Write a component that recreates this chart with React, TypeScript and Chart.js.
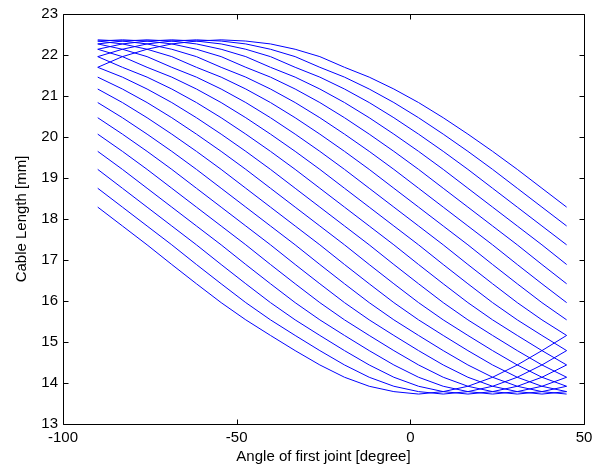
import React, { useEffect, useRef } from "react";
import { Chart, registerables } from "chart.js";

Chart.register(...registerables);

// Angle of first joint [degree] (20 samples from -90 to 45)
const angles = [
  -90, -82.89, -75.79, -68.68, -61.58, -54.47, -47.37, -40.26, -33.16, -26.05,
  -18.95, -11.84, -4.74, 2.37, 9.47, 16.58, 23.68, 30.79, 37.89, 45,
];

// Cable length [mm] for each second-joint setting
const c0 = [21.70, 21.96, 22.14, 22.27, 22.34, 22.37, 22.34, 22.27, 22.14, 21.96, 21.70, 21.46, 21.17, 20.84, 20.47, 20.07, 19.65, 19.21, 18.75, 18.29];
const c1 = [21.96, 22.14, 22.27, 22.34, 22.37, 22.34, 22.27, 22.14, 21.96, 21.70, 21.46, 21.17, 20.84, 20.47, 20.07, 19.65, 19.21, 18.75, 18.29, 17.83];
const c2 = [22.14, 22.27, 22.34, 22.37, 22.34, 22.27, 22.14, 21.96, 21.70, 21.46, 21.17, 20.84, 20.47, 20.07, 19.65, 19.21, 18.75, 18.29, 17.83, 17.37];
const c3 = [22.27, 22.34, 22.37, 22.34, 22.27, 22.14, 21.96, 21.70, 21.46, 21.17, 20.84, 20.47, 20.07, 19.65, 19.21, 18.75, 18.29, 17.83, 17.37, 16.89];
const c4 = [22.34, 22.37, 22.34, 22.27, 22.14, 21.96, 21.70, 21.46, 21.17, 20.84, 20.47, 20.07, 19.65, 19.21, 18.75, 18.29, 17.83, 17.37, 16.89, 16.42];
const c5 = [22.37, 22.34, 22.27, 22.14, 21.96, 21.70, 21.46, 21.17, 20.84, 20.47, 20.07, 19.65, 19.21, 18.75, 18.29, 17.83, 17.37, 16.89, 16.42, 15.96];
const c6 = [22.34, 22.27, 22.14, 21.96, 21.70, 21.46, 21.17, 20.84, 20.47, 20.07, 19.65, 19.21, 18.75, 18.29, 17.83, 17.37, 16.89, 16.42, 15.96, 15.54];
const c7 = [22.27, 22.14, 21.96, 21.70, 21.46, 21.17, 20.84, 20.47, 20.07, 19.65, 19.21, 18.75, 18.29, 17.83, 17.37, 16.89, 16.42, 15.96, 15.54, 15.16];
const c8 = [22.14, 21.96, 21.70, 21.46, 21.17, 20.84, 20.47, 20.07, 19.65, 19.21, 18.75, 18.29, 17.83, 17.37, 16.89, 16.42, 15.96, 15.54, 15.16, 14.79];
const c9 = [21.96, 21.70, 21.46, 21.17, 20.84, 20.47, 20.07, 19.65, 19.21, 18.75, 18.29, 17.83, 17.37, 16.89, 16.42, 15.96, 15.54, 15.16, 14.79, 14.44];
const c10 = [21.70, 21.46, 21.17, 20.84, 20.47, 20.07, 19.65, 19.21, 18.75, 18.29, 17.83, 17.37, 16.89, 16.42, 15.96, 15.54, 15.16, 14.79, 14.44, 14.14];
const c11 = [21.46, 21.17, 20.84, 20.47, 20.07, 19.65, 19.21, 18.75, 18.29, 17.83, 17.37, 16.89, 16.42, 15.96, 15.54, 15.16, 14.79, 14.44, 14.14, 13.92];
const c12 = [21.17, 20.84, 20.47, 20.07, 19.65, 19.21, 18.75, 18.29, 17.83, 17.37, 16.89, 16.42, 15.96, 15.54, 15.16, 14.79, 14.44, 14.14, 13.92, 13.79];
const c13 = [20.84, 20.47, 20.07, 19.65, 19.21, 18.75, 18.29, 17.83, 17.37, 16.89, 16.42, 15.96, 15.54, 15.16, 14.79, 14.44, 14.14, 13.92, 13.79, 13.73];
const c14 = [20.47, 20.07, 19.65, 19.21, 18.75, 18.29, 17.83, 17.37, 16.89, 16.42, 15.96, 15.54, 15.16, 14.79, 14.44, 14.14, 13.92, 13.79, 13.73, 13.79];
const c15 = [20.07, 19.65, 19.21, 18.75, 18.29, 17.83, 17.37, 16.89, 16.42, 15.96, 15.54, 15.16, 14.79, 14.44, 14.14, 13.92, 13.79, 13.73, 13.79, 13.92];
const c16 = [19.65, 19.21, 18.75, 18.29, 17.83, 17.37, 16.89, 16.42, 15.96, 15.54, 15.16, 14.79, 14.44, 14.14, 13.92, 13.79, 13.73, 13.79, 13.92, 14.14];
const c17 = [19.21, 18.75, 18.29, 17.83, 17.37, 16.89, 16.42, 15.96, 15.54, 15.16, 14.79, 14.44, 14.14, 13.92, 13.79, 13.73, 13.79, 13.92, 14.14, 14.44];
const c18 = [18.75, 18.29, 17.83, 17.37, 16.89, 16.42, 15.96, 15.54, 15.16, 14.79, 14.44, 14.14, 13.92, 13.79, 13.73, 13.79, 13.92, 14.14, 14.44, 14.79];
const c19 = [18.29, 17.83, 17.37, 16.89, 16.42, 15.96, 15.54, 15.16, 14.79, 14.44, 14.14, 13.92, 13.79, 13.73, 13.79, 13.92, 14.14, 14.44, 14.79, 15.16];

const curves = [c0, c1, c2, c3, c4, c5, c6, c7, c8, c9, c10, c11, c12, c13, c14, c15, c16, c17, c18, c19];

const xTicks = [-100, -50, 0, 50];
const yTicks = [13, 14, 15, 16, 17, 18, 19, 20, 21, 22, 23];

const FONT = "'Liberation Sans', Arial, Helvetica, sans-serif";

const framePlugin = {
  id: "frameTicks",
  afterDraw(chart: any) {
    const { ctx, chartArea } = chart;
    const { left, right, top, bottom } = chartArea;
    const xs = chart.scales.x;
    const ys = chart.scales.y;
    const L = Math.round(left) + 0.5;
    const R = Math.round(right) + 0.5;
    const T = Math.round(top) + 0.5;
    const B = Math.round(bottom) + 0.5;
    ctx.save();
    ctx.strokeStyle = "#000";
    ctx.lineWidth = 1;
    ctx.beginPath();
    ctx.rect(L, T, R - L, B - T);
    const tl = 5;
    for (const v of xTicks) {
      const px = Math.round(xs.getPixelForValue(v)) + 0.5;
      ctx.moveTo(px, B);
      ctx.lineTo(px, B - tl);
      ctx.moveTo(px, T);
      ctx.lineTo(px, T + tl);
    }
    for (const v of yTicks) {
      const py = Math.round(ys.getPixelForValue(v)) + 0.5;
      ctx.moveTo(L, py);
      ctx.lineTo(L + tl, py);
      ctx.moveTo(R, py);
      ctx.lineTo(R - tl, py);
    }
    ctx.stroke();
    ctx.restore();
  },
};

export default function App() {
  const ref = useRef<HTMLCanvasElement | null>(null);

  useEffect(() => {
    if (!ref.current) return;
    const chart = new Chart(ref.current, {
      type: "line",
      data: {
        datasets: curves.map((c, k) => ({
          label: "curve " + k,
          data: angles.map((a, i) => ({ x: a, y: c[i] })),
          borderColor: "#0000ff",
          borderWidth: 1,
          pointRadius: 0,
          fill: false,
          tension: 0,
        })),
      },
      options: {
        responsive: false,
        animation: false,
        layout: { padding: { top: 14, right: 19, left: 0, bottom: 0 } },
        plugins: { legend: { display: false }, tooltip: { enabled: false } },
        scales: {
          x: {
            type: "linear",
            min: -100,
            max: 50,
            afterBuildTicks: (s: any) => {
              s.ticks = xTicks.map((v) => ({ value: v }));
            },
            afterFit: (s: any) => {
              s.height = 46;
            },
            grid: { display: false, drawTicks: false },
            border: { display: false },
            ticks: {
              color: "#000",
              font: { family: FONT, size: 15 },
              padding: 5,
              maxRotation: 0,
              autoSkip: false,
            },
            title: {
              display: true,
              text: "Angle of first joint [degree]",
              color: "#000",
              font: { family: FONT, size: 15 },
              padding: { top: 0, bottom: 4 },
            },
          },
          y: {
            type: "linear",
            min: 13,
            max: 23,
            afterBuildTicks: (s: any) => {
              s.ticks = yTicks.map((v) => ({ value: v }));
            },
            afterFit: (s: any) => {
              s.width = 63;
            },
            grid: { display: false, drawTicks: false },
            border: { display: false },
            ticks: {
              color: "#000",
              font: { family: FONT, size: 15 },
              padding: 5,
              autoSkip: false,
            },
            title: {
              display: true,
              text: "Cable Length [mm]",
              color: "#000",
              font: { family: FONT, size: 15 },
              padding: { top: 13, bottom: 0 },
            },
          },
        },
      },
      plugins: [framePlugin],
    });
    return () => chart.destroy();
  }, []);

  return (
    <div style={{ position: "fixed", left: 0, top: 0, width: 603, height: 470, background: "#fff" }}>
      <canvas ref={ref} width={603} height={470} style={{ display: "block" }} />
    </div>
  );
}
